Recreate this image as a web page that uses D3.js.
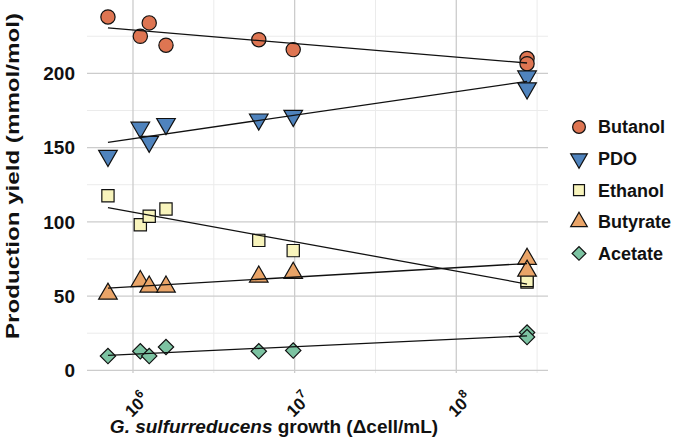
<!DOCTYPE html>
<html><head><meta charset="utf-8">
<script src="https://cdn.jsdelivr.net/npm/d3@7"></script>
<style>body{margin:0;background:#fff}svg{display:block;font-family:"Liberation Sans",Arial,sans-serif}</style>
</head><body><div id="chart"></div>
<script>
// ---- data ----
const cellGrowth = [7.0e5, 1.11e6, 1.26e6, 1.6e6, 6.0e6, 9.8e6, 2.74e8, 2.74e8];
const butanol  = [238, 225, 234, 219, 222.7, 216, 210, 206.5];
const pdo      = [144.5, 163.5, 154, 166, 169, 171.5, 198, 190];
const ethanol  = [117.6, 98, 103.7, 108.6, 87.5, 80.6, 59.5, 60.5];
const butyrate = [51.5, 60, 56.3, 56.3, 63, 65.5, 75, 67];
const acetate  = [9.6, 12.8, 9.6, 15.7, 12.8, 13.3, 25.4, 22.4];
const seriesNames = ["Butanol", "PDO", "Ethanol", "Butyrate", "Acetate"];
const seriesColors = ["#DE7552", "#4F83BD", "#F8F4BC", "#E9A468", "#7CC3A2"];
const yTicks = [0, 50, 100, 150, 200];
const xTickExps = [6, 7, 8];

const series = [butanol, pdo, ethanol, butyrate, acetate].map((v, i) => ({
  name: seriesNames[i], color: seriesColors[i], values: v
}));

const W = 675, H = 446;
const m = {left: 87, right: 127, top: 0, bottom: 73};
const svg = d3.select("#chart").append("svg").attr("width", W).attr("height", H);

const lx = cellGrowth.map(Math.log10);
const lxMin = d3.min(lx), lxMax = d3.max(lx), lxR = lxMax - lxMin;
const allY = series.flatMap(s => s.values);
const yMin = d3.min(allY), yMax = d3.max(allY), yR = yMax - yMin;

const x = d3.scaleLog()
  .domain([Math.pow(10, lxMin - 0.05 * lxR), Math.pow(10, lxMax + 0.05 * lxR)])
  .range([m.left, W - m.right]);
const y = d3.scaleLinear()
  .domain([yMin - 0.05 * yR, yMax + 0.05 * yR])
  .range([H - m.bottom, m.top]);

// grid
const g = svg.append("g");
const minorY = d3.range(25, 250, 50);
g.selectAll(".gyn").data(minorY).join("line")
  .attr("x1", m.left).attr("x2", W - m.right)
  .attr("y1", d => y(d)).attr("y2", d => y(d))
  .attr("stroke", "#ebebeb").attr("stroke-width", 1);
const minorX = [5.5, 6.5, 7.5, 8.5].map(e => Math.pow(10, e)).filter(v => v >= x.domain()[0] && v <= x.domain()[1]);
g.selectAll(".gxn").data(minorX).join("line")
  .attr("x1", d => x(d)).attr("x2", d => x(d))
  .attr("y1", m.top).attr("y2", H - m.bottom)
  .attr("stroke", "#ebebeb").attr("stroke-width", 1);
g.selectAll(".gy").data(yTicks).join("line")
  .attr("x1", m.left).attr("x2", W - m.right)
  .attr("y1", d => y(d)).attr("y2", d => y(d))
  .attr("stroke", "#cccccc").attr("stroke-width", 1.3);
g.selectAll(".gx").data(xTickExps).join("line")
  .attr("x1", d => x(Math.pow(10, d))).attr("x2", d => x(Math.pow(10, d)))
  .attr("y1", m.top).attr("y2", H - m.bottom)
  .attr("stroke", "#cccccc").attr("stroke-width", 1.3);

// y tick labels
svg.selectAll(".yt").data(yTicks).join("text")
  .attr("x", m.left - 12).attr("y", d => y(d)).attr("dy", "0.36em")
  .attr("text-anchor", "end").attr("font-size", 19).attr("font-weight", "bold")
  .attr("fill", "#111").text(d => d);

// x tick labels
const xt = svg.selectAll(".xt").data(xTickExps).join("text")
  .attr("transform", d => `translate(${x(Math.pow(10, d)) + 17},${H - m.bottom + 27}) rotate(-45)`)
  .attr("text-anchor", "end").attr("font-size", 17).attr("font-weight", "bold").attr("fill", "#111");
xt.append("tspan").text("10");
xt.append("tspan").attr("font-size", 12).attr("dy", -8).text(d => d);

// axis titles
svg.append("text")
  .attr("transform", `translate(19,176) rotate(-90)`)
  .attr("text-anchor", "middle").attr("font-size", 18).attr("font-weight", "bold").attr("fill", "#111")
  .attr("textLength", 326).attr("lengthAdjust", "spacingAndGlyphs")
  .text("Production yield (mmol/mol)");
const xtitle = svg.append("text")
  .attr("x", 274).attr("y", 433)
  .attr("text-anchor", "middle").attr("font-size", 19).attr("font-weight", "bold").attr("fill", "#111");
xtitle.append("tspan").attr("font-style", "italic").text("G. sulfurreducens");
xtitle.append("tspan").text(" growth (\u0394cell/mL)");

// symbols
const symDefs = [
  {type: d3.symbolCircle, size: 160, rot: 0},
  {type: d3.symbolTriangle, size: 150, rot: 180},
  {type: d3.symbolSquare, size: 150, rot: 0},
  {type: d3.symbolTriangle, size: 150, rot: 0},
  {type: d3.symbolSquare, size: 118, rot: 45}
];

const plot = svg.append("g");
series.forEach((s, i) => {
  const sd = symDefs[i];
  plot.append("g").selectAll("path").data(s.values).join("path")
    .attr("d", d3.symbol().type(sd.type).size(sd.size))
    .attr("transform", (d, j) => `translate(${x(cellGrowth[j])},${y(d)}) rotate(${sd.rot})`)
    .attr("fill", s.color).attr("stroke", "#111").attr("stroke-width", 1.2);
});

// regression lines (y ~ log10 x)
series.forEach(s => {
  const mx = d3.mean(lx), my = d3.mean(s.values);
  let num = 0, den = 0;
  lx.forEach((v, j) => { num += (v - mx) * (s.values[j] - my); den += (v - mx) * (v - mx); });
  const b = num / den, a = my - b * mx;
  plot.append("line")
    .attr("x1", x(Math.pow(10, lxMin))).attr("y1", y(a + b * lxMin))
    .attr("x2", x(Math.pow(10, lxMax))).attr("y2", y(a + b * lxMax))
    .attr("stroke", "#111").attr("stroke-width", 1.3);
});

// legend
const leg = svg.append("g");
series.forEach((s, i) => {
  const sd = symDefs[i];
  const ly = 127 + i * 31.6;
  leg.append("path")
    .attr("d", d3.symbol().type(sd.type).size(sd.size * 0.8))
    .attr("transform", `translate(579,${ly}) rotate(${sd.rot})`)
    .attr("fill", s.color).attr("stroke", "#111").attr("stroke-width", 1.2);
  leg.append("text").attr("x", 598).attr("y", ly).attr("dy", "0.36em")
    .attr("font-size", 18).attr("font-weight", "bold").attr("fill", "#111").text(s.name);
});
</script></body></html>
